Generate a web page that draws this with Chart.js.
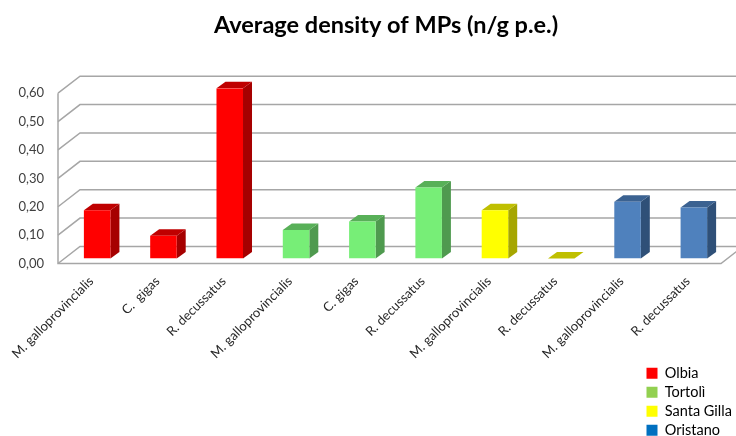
<!DOCTYPE html>
<html lang="en">
<head>
  <meta charset="UTF-8"/>
  <title>Average density of MPs</title>
  <script src="https://cdn.jsdelivr.net/npm/chart.js"></script>
  <style>
    html, body { margin: 0; padding: 0; background: #fff; }
    #wrap { width: 736px; height: 436px; }
  </style>
</head>
<body>
  <div id="wrap"><canvas id="densityChart" width="736" height="436"></canvas></div>
  <script>
    const categories = [
      'M. galloprovincialis', 'C.  gigas', 'R. decussatus',
      'M. galloprovincialis', 'C. gigas', 'R. decussatus',
      'M. galloprovincialis', 'R. decussatus',
      'M. galloprovincialis', 'R. decussatus'
    ];
    const olbia     = [0.17, 0.08, 0.60, null, null, null, null, null, null, null];
    const tortoli   = [null, null, null, 0.10, 0.13, 0.25, null, null, null, null];
    const santaGilla = [null, null, null, null, null, null, 0.17, 0, null, null];
    const oristano  = [null, null, null, null, null, null, null, null, 0.20, 0.18];
    const siteNames = ['Olbia', 'Tortolì', 'Santa Gilla', 'Oristano'];

    // front, side and top face colours per site, plus the legend swatch
    const frontColors  = ['#ff0000', '#77ee77', '#ffff00', '#4f81bd'];
    const sideColors   = ['#a60000', '#4f9a4f', '#a6a600', '#2f5078'];
    const topColors    = ['#bf0000', '#58b058', '#bfbf00', '#3b6291'];
    const swatchColors = ['#ff0000', '#92d050', '#ffff00', '#0070c0'];

    const FONT = 'Lato, Carlito, sans-serif';
    const DEPTH_X = 22, DEPTH_Y = 17;      // depth of the walls
    const BAR_DX = 6, BAR_DY = -5;         // bars stand a little inside the floor
    const BAR_DEPTH_X = 9, BAR_DEPTH_Y = 6.5;

    function poly(ctx, pts, fill) {
      ctx.beginPath();
      pts.forEach((p, i) => i ? ctx.lineTo(p[0], p[1]) : ctx.moveTo(p[0], p[1]));
      ctx.closePath();
      ctx.fillStyle = fill;
      ctx.fill();
    }

    // Back wall grid, left wall diagonals and floor outline
    const wallsPlugin = {
      id: 'walls',
      beforeDatasetsDraw(chart) {
        const { ctx, chartArea: a, scales: { y } } = chart;
        ctx.save();
        ctx.strokeStyle = '#a6a6a6';
        ctx.lineWidth = 1.5;
        y.ticks.forEach(t => {
          const py = y.getPixelForValue(t.value);
          ctx.beginPath();
          ctx.moveTo(a.left, py);
          ctx.lineTo(a.left + DEPTH_X, py - DEPTH_Y);
          ctx.lineTo(a.right + DEPTH_X, py - DEPTH_Y);
          ctx.stroke();
        });
        ctx.beginPath();
        ctx.moveTo(a.left, a.top);
        ctx.lineTo(a.left, a.bottom);
        ctx.lineTo(a.right, a.bottom);
        ctx.lineTo(a.right + DEPTH_X, a.bottom - DEPTH_Y);
        ctx.stroke();
        ctx.restore();
      }
    };

    // Extruded bars: side and top faces, then shift the front faces to match
    const extrudePlugin = {
      id: 'extrude',
      beforeDatasetsDraw(chart) {
        const ctx = chart.ctx;
        ctx.save();
        ctx.translate(BAR_DX, BAR_DY);
        chart.data.datasets.forEach((ds, i) => {
          chart.getDatasetMeta(i).data.forEach((bar, j) => {
            if (ds.data[j] === null) return;
            const { x, y, base, width } = bar.getProps(['x', 'y', 'base', 'width'], true);
            const l = x - width / 2, r = x + width / 2;
            poly(ctx, [[r, y], [r + BAR_DEPTH_X, y - BAR_DEPTH_Y], [r + BAR_DEPTH_X, base - BAR_DEPTH_Y], [r, base]], sideColors[i]);
            poly(ctx, [[l, y], [l + BAR_DEPTH_X, y - BAR_DEPTH_Y], [r + BAR_DEPTH_X, y - BAR_DEPTH_Y], [r, y]], topColors[i]);
          });
        });
      },
      afterDatasetsDraw(chart) {
        chart.ctx.restore();
      },
      // title and legend sit away from where the layout would put them
      afterLayout(chart) {
        const lg = chart.legend;
        lg.left = 642; lg.right = 736; lg.top = 361.5; lg.bottom = 470;
        lg.width = 94; lg.height = 108.5;
        chart.titleBlock.left = 51;
      }
    };

    const series = [olbia, tortoli, santaGilla, oristano];

    new Chart(document.getElementById('densityChart'), {
      type: 'bar',
      data: {
        labels: categories,
        datasets: series.map((data, i) => ({
          label: siteNames[i],
          data,
          backgroundColor: frontColors[i],
          barPercentage: 0.4,
          categoryPercentage: 1
        }))
      },
      options: {
        responsive: false,
        animation: false,
        layout: { padding: { left: 0, right: 15, top: 11, bottom: 0 } },
        plugins: {
          title: {
            display: true,
            text: 'Average density of MPs (n/g p.e.)',
            color: '#000',
            font: { family: FONT, size: 23.5, weight: 'bold' },
            padding: { top: 0, bottom: 54 }
          },
          legend: {
            position: 'chartArea',
            align: 'start',
            labels: {
              font: { family: FONT, size: 14.5 },
              color: '#333',
              boxWidth: 11,
              boxHeight: 11,
              padding: 4.5,
              generateLabels: () => siteNames.map((text, i) => ({
                text,
                fillStyle: swatchColors[i],
                strokeStyle: swatchColors[i],
                lineWidth: 0,
                datasetIndex: i
              }))
            }
          },
          tooltip: { enabled: false }
        },
        scales: {
          x: {
            stacked: true,
            grid: { display: false },
            border: { display: false },
            ticks: {
              autoSkip: false,
              minRotation: 45,
              maxRotation: 45,
              color: '#262626',
              padding: 2,
              font: { family: FONT, size: 13 }
            },
            afterFit(s) { s.height = 172.5; s.paddingLeft = 0; s.paddingRight = 0; }
          },
          y: {
            stacked: true,
            min: 0,
            max: 0.6,
            grid: { display: false },
            border: { display: false },
            ticks: {
              stepSize: 0.1,
              padding: 6,
              color: '#404040',
              font: { family: FONT, size: 13 },
              callback: v => v.toFixed(2).replace('.', ',')
            },
            afterFit(s) { s.width = 58; s.paddingTop = 0; s.paddingBottom = 0; }
          }
        }
      },
      plugins: [wallsPlugin, extrudePlugin]
    });
  </script>
</body>
</html>
